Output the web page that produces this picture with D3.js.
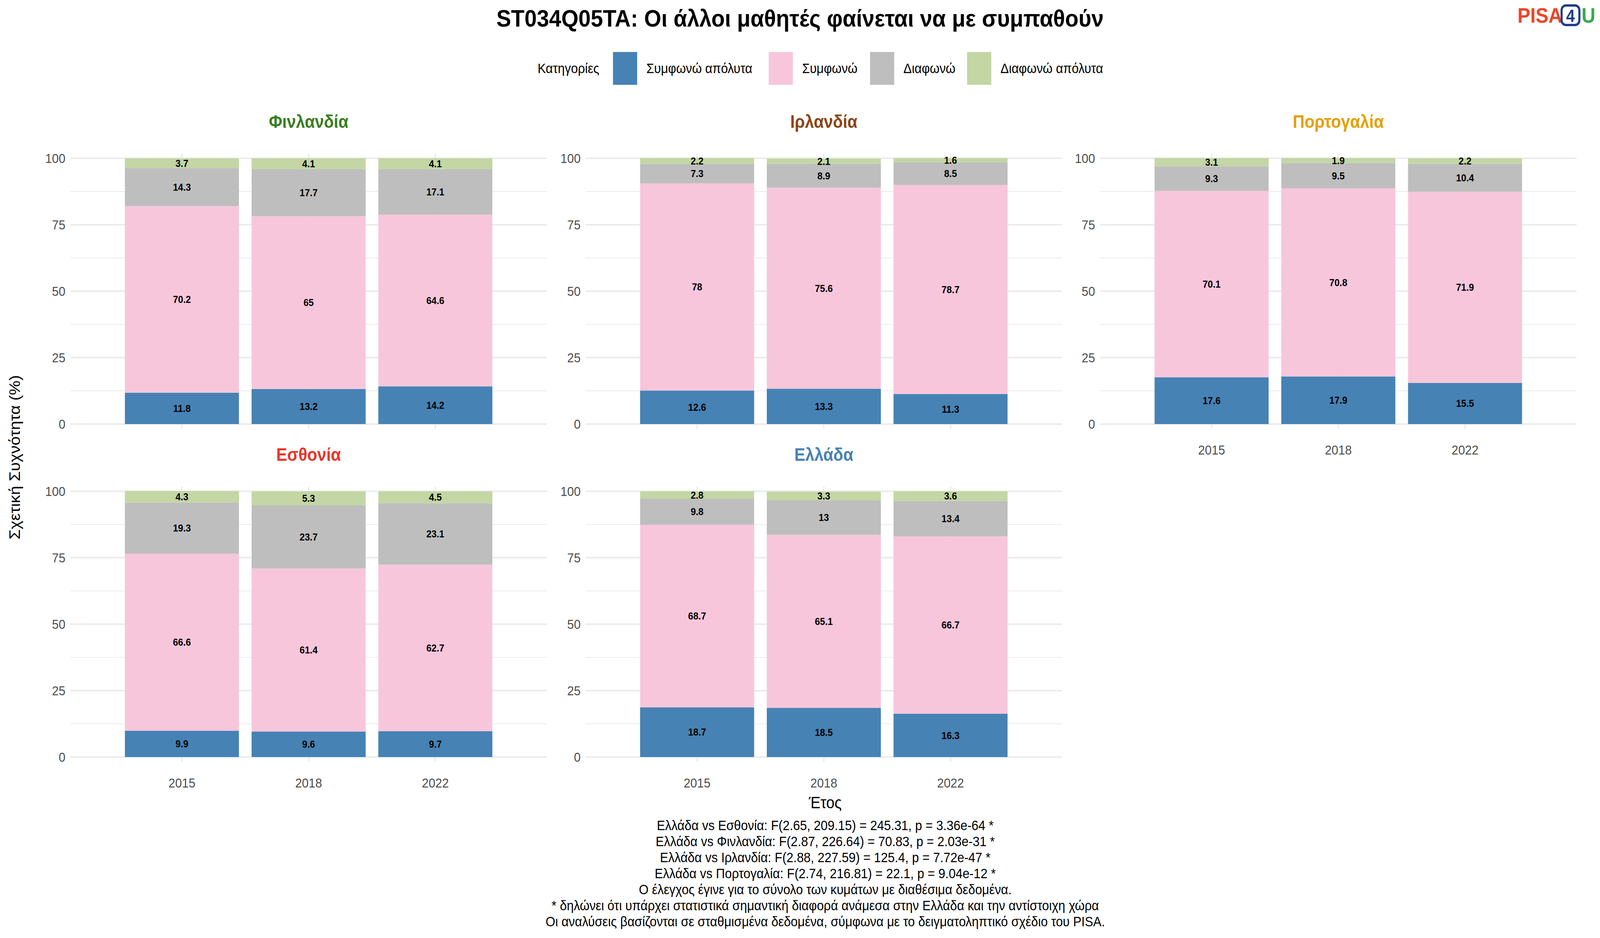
<!DOCTYPE html>
<html><head><meta charset="utf-8">
<script src="https://cdn.jsdelivr.net/npm/d3@7"></script>
<style>html,body{margin:0;padding:0;background:#fff;overflow:hidden}svg{display:block;width:100vw;height:100vh}text{font-family:"Liberation Sans",Arial,sans-serif}</style>
</head><body>
<script>
var years = ["2015", "2018", "2022"];
var categories = ["Συμφωνώ απόλυτα", "Συμφωνώ", "Διαφωνώ", "Διαφωνώ απόλυτα"];
var colors = ["#4682B4", "#F7C6DB", "#BEBEBE", "#C3D6A4"];
var countries = ["Φινλανδία", "Ιρλανδία", "Πορτογαλία", "Εσθονία", "Ελλάδα"];
var countryColors = ["#3A7D22", "#8B4513", "#E69F00", "#E8352A", "#4682B4"];
// values per country: [year][category]
var finland = [[11.8, 70.2, 14.3, 3.7], [13.2, 65, 17.7, 4.1], [14.2, 64.6, 17.1, 4.1]];
var ireland = [[12.6, 78, 7.3, 2.2], [13.3, 75.6, 8.9, 2.1], [11.3, 78.7, 8.5, 1.6]];
var portugal = [[17.6, 70.1, 9.3, 3.1], [17.9, 70.8, 9.5, 1.9], [15.5, 71.9, 10.4, 2.2]];
var estonia = [[9.9, 66.6, 19.3, 4.3], [9.6, 61.4, 23.7, 5.3], [9.7, 62.7, 23.1, 4.5]];
var greece = [[18.7, 68.7, 9.8, 2.8], [18.5, 65.1, 13, 3.3], [16.3, 66.7, 13.4, 3.6]];
var countryData = [finland, ireland, portugal, estonia, greece];
var yTicks = [0, 25, 50, 75, 100];
var footer = [
  "Ελλάδα vs Εσθονία: F(2.65, 209.15) = 245.31, p = 3.36e-64 *",
  "Ελλάδα vs Φινλανδία: F(2.87, 226.64) = 70.83, p = 2.03e-31 *",
  "Ελλάδα vs Ιρλανδία: F(2.88, 227.59) = 125.4, p = 7.72e-47 *",
  "Ελλάδα vs Πορτογαλία: F(2.74, 216.81) = 22.1, p = 9.04e-12 *",
  "Ο έλεγχος έγινε για το σύνολο των κυμάτων με διαθέσιμα δεδομένα.",
  "* δηλώνει ότι υπάρχει στατιστικά σημαντική διαφορά ανάμεσα στην Ελλάδα και την αντίστοιχη χώρα",
  "Οι αναλύσεις βασίζονται σε σταθμισμένα δεδομένα, σύμφωνα με το δειγματοληπτικό σχέδιο του PISA."
];

var W = 4500, H = 2400;
var svg = d3.select("body").append("svg").attr("viewBox", "0 0 " + W + " " + H)
  .attr("preserveAspectRatio", "none");

svg.append("text").attr("x", W/2).attr("y", 68).attr("text-anchor", "middle")
  .style("font-size", "62px").style("font-weight", "bold")
  .text("ST034Q05TA: Οι άλλοι μαθητές φαίνεται να με συμπαθούν");

// logo
var logo = svg.append("g").attr("transform", "translate(4268,58)");
logo.append("text").attr("x", 0).attr("y", 0).style("font-size", "54px").style("font-weight", "bold").attr("fill", "#EE4526").text("PISA");
logo.append("rect").attr("x", 124).attr("y", -44).attr("width", 50).attr("height", 50).attr("rx", 12)
  .attr("fill", "none").attr("stroke", "#1F3D8C").attr("stroke-width", 6);
logo.append("text").attr("x", 149).attr("y", -2).attr("text-anchor", "middle").style("font-size", "44px").style("font-weight", "bold").attr("fill", "#1F3D8C").text("4");
logo.append("text").attr("x", 180).attr("y", 0).style("font-size", "54px").style("font-weight", "bold").attr("fill", "#3BAA48").text("U");

// legend
var leg = svg.append("g").attr("transform", "translate(1512,175)");
leg.append("text").attr("x", 0).attr("y", 12).style("font-size", "35px").text("Κατηγορίες");
var lx = [212, 650, 935, 1208];
categories.forEach(function(c, i) {
  leg.append("rect").attr("x", lx[i]).attr("y", -42).attr("width", 68).attr("height", 84).attr("fill", colors[i]);
  leg.append("text").attr("x", lx[i] + 94).attr("y", 12).style("font-size", "35px").text(c);
});

var panelX = [198, 1647, 3094], panelW = 1340;
var rowTop = [405, 1257], panelH = 680;
var y = d3.scaleLinear().domain([0, 100]).range([panelH, 0]);
var x = d3.scaleBand().domain(years).range([0, panelW]).paddingInner(0.1).paddingOuter(0.43);

countries.forEach(function(name, ci) {
  var col = ci % 3, row = Math.floor(ci / 3);
  var g = svg.append("g").attr("transform", "translate(" + panelX[col] + "," + rowTop[row] + ")");
  // grid
  d3.range(0, 101, 12.5).forEach(function(t) {
    g.append("line").attr("x1", 0).attr("x2", panelW).attr("y1", y(t)).attr("y2", y(t))
      .attr("stroke", "#EBEBEB").attr("stroke-width", t % 25 === 0 ? 4 : 2);
  });
  years.forEach(function(yr) {
    var cx = x(yr) + x.bandwidth()/2;
    g.append("line").attr("x1", cx).attr("x2", cx).attr("y1", -12).attr("y2", panelH + 12).attr("stroke", "#EBEBEB").attr("stroke-width", 4);
  });
  // y axis labels
  yTicks.forEach(function(t) {
    g.append("text").attr("x", -14).attr("y", y(t) + 12).attr("text-anchor", "end")
      .style("font-size", "34px").attr("fill", "#4D4D4D").text(t);
  });
  // strip title
  g.append("text").attr("x", panelW/2).attr("y", -78).attr("text-anchor", "middle")
    .style("font-size", "46px").style("font-weight", "bold").attr("fill", countryColors[ci]).text(name);
  // bars
  countryData[ci].forEach(function(vals, yi) {
    var yr = years[yi], cum = 0;
    vals.forEach(function(v, k) {
      var y0 = cum, y1 = cum + v; cum = y1;
      g.append("rect").attr("x", x(yr)).attr("width", x.bandwidth())
        .attr("y", y(y1)).attr("height", y(y0) - y(y1)).attr("fill", colors[k]);
      g.append("text").attr("x", x(yr) + x.bandwidth()/2).attr("y", y((y0 + y1)/2) + 9)
        .attr("text-anchor", "middle").style("font-size", "26px").style("font-weight", "bold").text(v);
    });
  });
  // x labels where nothing below
  if (row === 1 || col === 2) {
    years.forEach(function(yr) {
      g.append("text").attr("x", x(yr) + x.bandwidth()/2).attr("y", panelH + 78).attr("text-anchor", "middle")
        .style("font-size", "34px").attr("fill", "#4D4D4D").text(yr);
    });
  }
});

svg.append("text").attr("x", 2321).attr("y", 2068).attr("text-anchor", "middle").style("font-size", "42px").text("Έτος");
svg.append("text").attr("transform", "translate(56,1170) rotate(-90)").attr("text-anchor", "middle")
  .style("font-size", "42px").text("Σχετική Συχνότητα (%)");

footer.forEach(function(t, i) {
  svg.append("text").attr("x", 2321).attr("y", 2124 + i * 41).attr("text-anchor", "middle").style("font-size", "35px").text(t);
});
</script>
</body></html>
